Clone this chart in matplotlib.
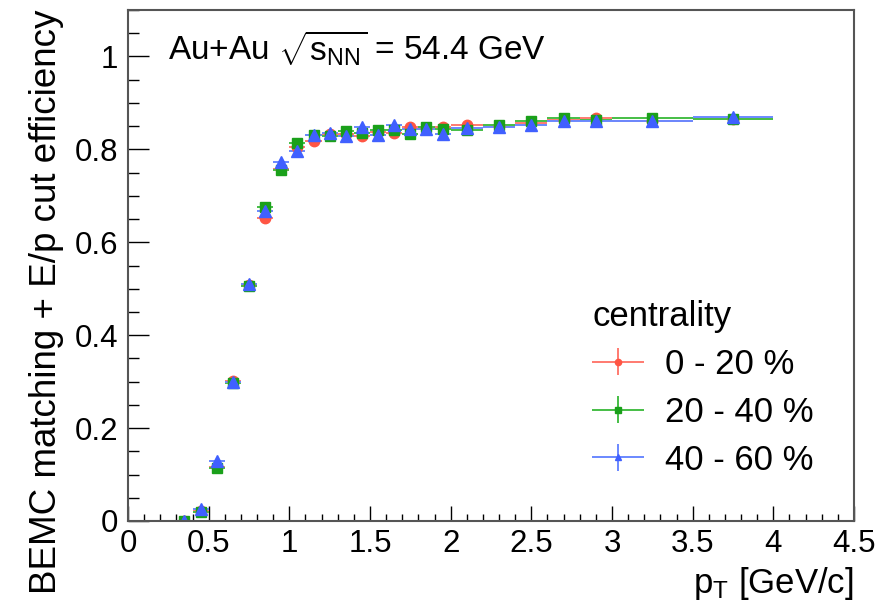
import matplotlib
matplotlib.use('Agg')
import matplotlib.pyplot as plt
from matplotlib.ticker import MultipleLocator, FuncFormatter
from matplotlib.container import ErrorbarContainer
from matplotlib.legend_handler import HandlerErrorbar

plt.rcParams['font.family'] = ['Liberation Sans', 'DejaVu Sans']
plt.rcParams['mathtext.fontset'] = 'custom'
plt.rcParams['mathtext.rm'] = 'Liberation Sans'
plt.rcParams['mathtext.it'] = 'Liberation Sans:italic'

# pT bins (centre and half width)
pt = [0.35, 0.45, 0.55, 0.65, 0.75, 0.85, 0.95, 1.05, 1.15, 1.25, 1.35, 1.45,
      1.55, 1.65, 1.75, 1.85, 1.95, 2.1, 2.3, 2.5, 2.7, 2.9, 3.25, 3.75]
pt_err = [0.05, 0.05, 0.05, 0.05, 0.05, 0.05, 0.05, 0.05, 0.05, 0.05, 0.05, 0.05,
          0.05, 0.05, 0.05, 0.05, 0.05, 0.1, 0.1, 0.1, 0.1, 0.1, 0.25, 0.25]

# efficiency per centrality class
eff_0_20 = [0.0, 0.022, 0.116, 0.301, 0.507, 0.652, 0.757, 0.806, 0.817, 0.832, 0.833, 0.828,
            0.838, 0.836, 0.848, 0.846, 0.848, 0.853, 0.850, 0.857, 0.864, 0.868, 0.862, 0.866]
eff_20_40 = [0.0, 0.020, 0.114, 0.298, 0.505, 0.675, 0.755, 0.813, 0.831, 0.829, 0.839, 0.836,
             0.842, 0.841, 0.834, 0.849, 0.843, 0.842, 0.853, 0.860, 0.868, 0.864, 0.868, 0.865]
eff_40_60 = [0.0, 0.025, 0.129, 0.300, 0.510, 0.667, 0.772, 0.796, 0.831, 0.836, 0.828, 0.848,
             0.831, 0.853, 0.844, 0.843, 0.834, 0.847, 0.848, 0.853, 0.860, 0.862, 0.860, 0.870]
eff_err = [0.003, 0.004, 0.006, 0.007, 0.007, 0.007, 0.006, 0.006, 0.006, 0.006, 0.006, 0.006,
           0.006, 0.006, 0.006, 0.006, 0.006, 0.005, 0.005, 0.005, 0.005, 0.005, 0.005, 0.005]

labels = ['0 - 20 %', '20 - 40 %', '40 - 60 %']
series = [eff_0_20, eff_20_40, eff_40_60]
markers = ['o', 's', '^']
msizes = [7.5, 7.5, 8.5]
mcolors = ['#FF5544', '#1AA01A', '#4060FF']
lcolors = ['#FF7A70', '#45BE45', '#6A88FF']

fig = plt.figure(figsize=(8.84, 6.08), dpi=100)
ax = fig.add_axes([128/884, 87/608, 726/884, 511/608])

for eff, lab, m, ms, mc, lc in zip(series, labels, markers, msizes, mcolors, lcolors):
    ax.errorbar(pt, eff, xerr=pt_err, yerr=eff_err, fmt=m, ms=ms, color=mc,
                ecolor=lc, elinewidth=1.4, capsize=0, mec=mc, label=lab)

ax.set_xlim(0, 4.5)
ax.set_ylim(0, 1.1)
ax.xaxis.set_major_locator(MultipleLocator(0.5))
ax.xaxis.set_minor_locator(MultipleLocator(0.1))
ax.yaxis.set_major_locator(MultipleLocator(0.2))
ax.yaxis.set_minor_locator(MultipleLocator(0.05))
fmt = FuncFormatter(lambda v, p: '%g' % round(v, 3))
ax.xaxis.set_major_formatter(fmt)
ax.yaxis.set_major_formatter(fmt)

ax.tick_params(axis='both', which='both', direction='in', top=False, right=False,
               width=1.0, color='black', labelsize=22.5)
ax.tick_params(axis='x', which='major', length=10.5, pad=6)
ax.tick_params(axis='x', which='minor', length=5.4)
ax.tick_params(axis='y', which='major', length=15, pad=7)
ax.tick_params(axis='y', which='minor', length=8)
for s in ax.spines.values():
    s.set_color('#555555')
    s.set_linewidth(1.5)

ax.set_xlabel(r'p$_{\mathrm{T}}$ [GeV/c]', fontsize=25, loc='right', labelpad=4)
ax.set_ylabel('BEMC matching + E/p cut efficiency', fontsize=26.5, loc='top', labelpad=8)

ax.text(0.055, 0.926, r'Au+Au $\sqrt{\mathrm{s}_{\mathrm{NN}}}$ = 54.4 GeV', transform=ax.transAxes,
        fontsize=24, va='center', ha='left')


def small_marker(h, o):
    h.update_from(o)
    if hasattr(h, 'set_markersize'):
        h.set_markersize(4.5)


leg = ax.legend(loc='upper left', bbox_to_anchor=(0.62, 0.46), frameon=False,
                fontsize=25, title='centrality', title_fontsize=25, alignment='left',
                handlelength=1.5, handletextpad=0.6, labelspacing=0.43, borderaxespad=0,
                handler_map={ErrorbarContainer: HandlerErrorbar(xerr_size=0.75, yerr_size=0.38,
                                                                update_func=small_marker)})

fig.savefig('out.png', dpi=100)
